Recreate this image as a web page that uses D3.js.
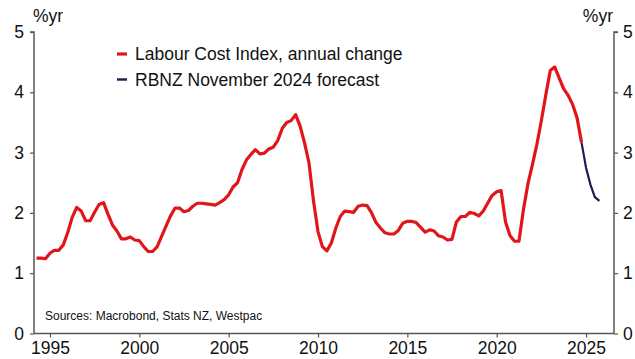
<!DOCTYPE html>
<html>
<head>
<meta charset="utf-8">
<script src="https://cdn.jsdelivr.net/npm/d3@7/dist/d3.min.js"></script>
<style>
  html, body { margin: 0; padding: 0; background: #fff; }
  svg { display: block; font-family: "Liberation Sans", Arial, sans-serif; }
</style>
</head>
<body>
<svg id="chart" width="635" height="359"></svg>
<script>
// ---- Data ----
const lciStart = [1994, 1]; // year, quarter of first observation
const lciValues = [
  1.25, 1.25, 1.24, 1.33, 1.38, 1.38, 1.47, 1.68, 1.93, 2.09,
  2.03, 1.87, 1.87, 2.01, 2.14, 2.17, 1.98, 1.80, 1.70, 1.57,
  1.57, 1.60, 1.55, 1.54, 1.44, 1.36, 1.36, 1.44, 1.61, 1.78,
  1.95, 2.08, 2.08, 2.02, 2.04, 2.11, 2.16, 2.16, 2.15, 2.14,
  2.13, 2.17, 2.22, 2.30, 2.43, 2.50, 2.72, 2.88, 2.97, 3.05,
  2.98, 2.99, 3.06, 3.09, 3.20, 3.40, 3.50, 3.53, 3.63, 3.44,
  3.16, 2.83, 2.20, 1.69, 1.44, 1.37, 1.50, 1.75, 1.94, 2.03,
  2.02, 2.01, 2.11, 2.13, 2.12, 2.00, 1.84, 1.75, 1.67, 1.65,
  1.65, 1.71, 1.83, 1.86, 1.86, 1.84, 1.76, 1.68, 1.72, 1.70,
  1.62, 1.60, 1.55, 1.56, 1.85, 1.94, 1.94, 2.01, 1.99, 1.95,
  2.03, 2.16, 2.29, 2.35, 2.37, 1.85, 1.62, 1.53, 1.53, 2.05,
  2.48, 2.80, 3.13, 3.52, 3.95, 4.36, 4.42, 4.24, 4.06, 3.95,
  3.80, 3.58, 3.17
];
const forecastStart = [2024, 3];
const forecastValues = [3.17, 2.75, 2.47, 2.26, 2.20];

const yTicks = [0, 1, 2, 3, 4, 5];
const xTickYears = [1995, 2000, 2005, 2010, 2015, 2020, 2025];
const seriesNames = ["Labour Cost Index, annual change", "RBNZ November 2024 forecast"];
const unitLabel = "%yr";
const sourceText = "Sources: Macrobond, Stats NZ, Westpac";

// ---- Helpers ----
function quarterDate(start, i) {
  const q0 = start[0] * 4 + (start[1] - 1) + i;
  const yr = Math.floor(q0 / 4), q = q0 % 4;
  return new Date(yr, (q + 1) * 3, 0); // quarter-end date
}
const lci = lciValues.map((v, i) => ({ date: quarterDate(lciStart, i), value: v }));
const fc = forecastValues.map((v, i) => ({ date: quarterDate(forecastStart, i), value: v }));

// ---- Layout ----
const svg = d3.select("#chart");
const mLeft = 34, mRight = 614, mTop = 32, mBottom = 333.5;
const x = d3.scaleTime()
  .domain([new Date(1994, 1, 8), new Date(2026, 6, 26)])
  .range([mLeft, mRight]);
const y = d3.scaleLinear().domain([0, 5]).range([mBottom, mTop]);

const axisColor = "#555";
const red = "#e0161b";
const navy = "#1b1a55";
const bigFont = 17.5;

// Axes
const gL = svg.append("g").attr("transform", `translate(${mLeft},0)`)
  .call(d3.axisLeft(y).tickValues(yTicks).tickSize(4).tickPadding(6).tickFormat(d3.format("d")));
const gR = svg.append("g").attr("transform", `translate(${mRight},0)`)
  .call(d3.axisRight(y).tickValues(yTicks).tickSize(4).tickPadding(5).tickFormat(d3.format("d")));
const gB = svg.append("g").attr("transform", `translate(0,${mBottom})`)
  .call(d3.axisBottom(x).tickValues(xTickYears.map(yr => new Date(yr, 0, 1))).tickSize(4).tickPadding(4).tickFormat(d3.timeFormat("%Y")));

[gL, gR, gB].forEach(g => {
  g.select(".domain").attr("stroke", axisColor).attr("stroke-width", 1.5);
  g.selectAll(".tick line").attr("stroke", axisColor).attr("stroke-width", 1.2);
  g.selectAll(".tick text").attr("fill", "#111").style("font-size", bigFont + "px")
    .style("font-family", '"Liberation Sans", Arial, sans-serif');
});
gL.select(".domain").attr("d", `M-4,${mTop}H0V${mBottom}`);
gR.select(".domain").attr("d", `M4,${mTop}H0V${mBottom}`);
gB.select(".domain").attr("d", `M${mLeft},0H${mRight}`);

// Unit labels
svg.append("text").attr("x", 33).attr("y", 22).attr("font-size", bigFont).attr("fill", "#111").text(unitLabel);
svg.append("text").attr("x", 613).attr("y", 22).attr("font-size", bigFont).attr("fill", "#111")
  .attr("text-anchor", "end").text(unitLabel);

// Lines
const line = d3.line().x(d => x(d.date)).y(d => y(d.value));
svg.append("path").datum(lci).attr("fill", "none").attr("stroke", red)
  .attr("stroke-width", 3.2).attr("stroke-linejoin", "round").attr("d", line);
svg.append("path").datum(fc).attr("fill", "none").attr("stroke", navy)
  .attr("stroke-width", 2.2).attr("stroke-linejoin", "round").attr("d", line);

// Legend
const legend = svg.append("g");
[[red, 3.2], [navy, 2.4]].forEach((s, i) => {
  const cy = 54 + i * 25.5;
  legend.append("line").attr("x1", 117).attr("x2", 127).attr("y1", cy).attr("y2", cy)
    .attr("stroke", s[0]).attr("stroke-width", s[1]);
  legend.append("text").attr("x", 135).attr("y", cy + 6).attr("font-size", bigFont).attr("fill", "#111")
    .text(seriesNames[i]);
});

// Source
svg.append("text").attr("x", 45).attr("y", 320).attr("font-size", 12).attr("fill", "#111").text(sourceText);
</script>
</body>
</html>
